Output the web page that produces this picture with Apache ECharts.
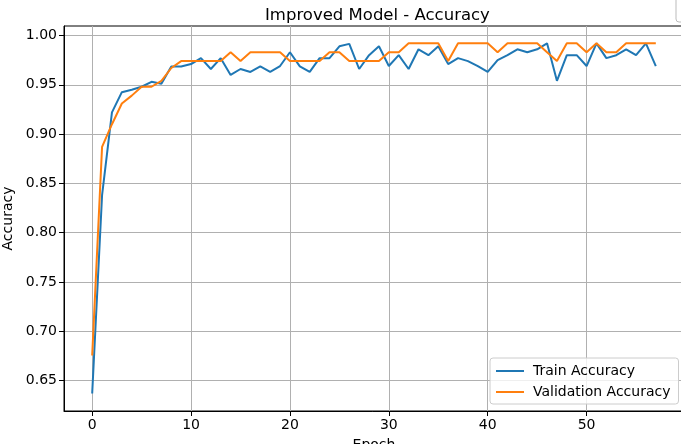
<!DOCTYPE html>
<html>
<head>
<meta charset="utf-8">
<script src="https://cdn.jsdelivr.net/npm/echarts@6/dist/echarts.min.js"></script>
<style>
  html, body { margin: 0; padding: 0; background: #fff; }
  #chart { width: 681px; height: 444px; }
</style>
</head>
<body>
<div id="chart"></div>
<script>
var epochs = [];
for (var i = 0; i < 58; i++) epochs.push(i);

var trainAcc = [0.637, 0.838, 0.922, 0.9425, 0.945, 0.948, 0.953, 0.951, 0.9686, 0.9686,
    0.971, 0.977, 0.966, 0.977, 0.960, 0.966, 0.963, 0.9686, 0.963, 0.969,
    0.983, 0.9686, 0.963, 0.977, 0.977, 0.989, 0.9915, 0.966, 0.980, 0.989,
    0.969, 0.980, 0.966, 0.986, 0.980, 0.989, 0.971, 0.977, 0.974, 0.969,
    0.963, 0.975, 0.980, 0.986, 0.983, 0.986, 0.992, 0.954, 0.980, 0.980,
    0.969, 0.992, 0.977, 0.980, 0.986, 0.980, 0.992, 0.969];

var valAcc = [0.6755, 0.887, 0.910, 0.931, 0.939, 0.948, 0.948, 0.954, 0.967, 0.974,
    0.974, 0.974, 0.974, 0.974, 0.983, 0.974, 0.983, 0.983, 0.983, 0.983,
    0.974, 0.974, 0.974, 0.974, 0.983, 0.983, 0.974, 0.974, 0.974, 0.974,
    0.983, 0.983, 0.992, 0.992, 0.992, 0.992, 0.974, 0.992, 0.992, 0.992,
    0.992, 0.983, 0.992, 0.992, 0.992, 0.992, 0.983, 0.974, 0.992, 0.992,
    0.983, 0.992, 0.983, 0.983, 0.992, 0.992, 0.992, 0.992];

var xTicks = [0, 10, 20, 30, 40, 50];
var yTicks = [0.65, 0.70, 0.75, 0.80, 0.85, 0.90, 0.95, 1.00];

function pairs(ys) {
    return epochs.map(function (e, i) { return [e, ys[i]]; });
}

var font = 'DejaVu Sans';
var chart = echarts.init(document.getElementById('chart'));
var option = {
    animation: false,
    title: {
        text: 'Improved Model - Accuracy',
        left: 260,
        top: 2,
        textStyle: { fontFamily: font, fontSize: 16.5, fontWeight: 'normal', color: '#000' }
    },
    grid: { left: 64, top: 26, right: -3, bottom: 33, containLabel: false, outerBoundsMode: 'none',
        show: true, borderColor: '#000', borderWidth: 1 },
    // edge of a box cut off by the window at top right
    graphic: [{
        type: 'rect',
        shape: { x: 676, y: -6, width: 20, height: 28, r: 3 },
        style: { fill: '#fff', stroke: '#bbbbbb', lineWidth: 1 }
    }],
    legend: {
        orient: 'vertical',
        left: 490,
        top: 358,
        icon: 'rect',
        itemWidth: 28,
        itemHeight: 2,
        itemGap: 7,
        padding: [6, 8, 5, 6],
        backgroundColor: 'rgba(255,255,255,0.8)',
        borderColor: '#cccccc',
        borderWidth: 1,
        borderRadius: 3,
        textStyle: { fontFamily: font, fontSize: 14, color: '#000', padding: [0, 0, 0, 4] },
        data: ['Train Accuracy', 'Validation Accuracy']
    },
    xAxis: {
        type: 'value',
        min: -2.85,
        max: 59.85,
        name: 'Epoch',
        nameLocation: 'middle',
        nameGap: 27,
        nameTextStyle: { fontFamily: font, fontSize: 14, color: '#000' },
        axisLine: { show: true, onZero: false, lineStyle: { color: '#000' } },
        axisTick: { show: true, length: 5, customValues: xTicks, lineStyle: { color: '#000' } },
        axisLabel: { customValues: xTicks, fontFamily: font, fontSize: 14, color: '#000', margin: 7 },
        splitLine: { show: true, lineStyle: { color: '#b0b0b0', width: 1 } }
    },
    yAxis: {
        type: 'value',
        min: 0.6192,
        max: 1.0096,
        name: 'Accuracy',
        nameLocation: 'middle',
        nameGap: 46,
        nameTextStyle: { fontFamily: font, fontSize: 14, color: '#000' },
        axisLine: { show: true, onZero: false, lineStyle: { color: '#000' } },
        axisTick: { show: true, length: 5, customValues: yTicks, lineStyle: { color: '#000' } },
        axisLabel: {
            customValues: yTicks, fontFamily: font, fontSize: 14, color: '#000', margin: 7,
            formatter: function (v) { return v.toFixed(2); }
        },
        splitLine: { show: true, lineStyle: { color: '#b0b0b0', width: 1 } }
    },
    series: [
        {
            name: 'Train Accuracy',
            type: 'line',
            data: pairs(trainAcc),
            showSymbol: false,
            color: '#1f77b4',
            lineStyle: { width: 2, color: '#1f77b4' }
        },
        {
            name: 'Validation Accuracy',
            type: 'line',
            data: pairs(valAcc),
            showSymbol: false,
            color: '#ff7f0e',
            lineStyle: { width: 2, color: '#ff7f0e' }
        }
    ]
};
chart.setOption(option);
window.addEventListener('resize', chart.resize);
</script>
</body>
</html>
